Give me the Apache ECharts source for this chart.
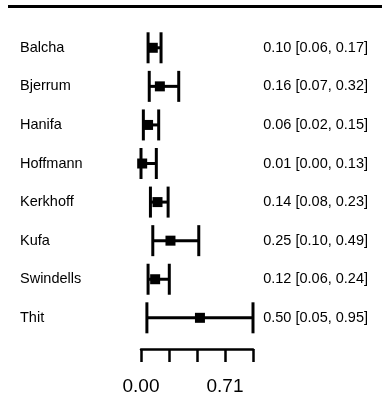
<!DOCTYPE html>
<html>
<head>
<meta charset="utf-8">
<script src="https://cdn.jsdelivr.net/npm/echarts@6/dist/echarts.min.js"></script>
<style>
html,body{margin:0;padding:0;background:#fff;}
#chart{width:382px;height:401px;}
</style>
</head>
<body>
<div id="chart"></div>
<script>
var studies = ["Balcha","Bjerrum","Hanifa","Hoffmann","Kerkhoff","Kufa","Swindells","Thit"];
var estimates = [0.10, 0.16, 0.06, 0.01, 0.14, 0.25, 0.12, 0.50];
var lower = [0.06, 0.07, 0.02, 0.00, 0.08, 0.10, 0.06, 0.05];
var upper = [0.17, 0.32, 0.15, 0.13, 0.23, 0.49, 0.24, 0.95];
var tickValues = [0, 0.2375, 0.475, 0.7125, 0.95];
var tickLabels = ["0.00", "", "", "0.71", ""];

var font = "'Liberation Sans', Arial, sans-serif";
var rightLabels = studies.map(function (s, i) {
  return estimates[i].toFixed(2) + " [" + lower[i].toFixed(2) + ", " + upper[i].toFixed(2) + "]";
});
var seriesData = studies.map(function (s, i) {
  return [lower[i], upper[i], estimates[i], s];
});

var chart = echarts.init(document.getElementById('chart'), null, {renderer: 'canvas'});
chart.setOption({
  animation: false,
  backgroundColor: '#ffffff',
  grid: {left: 141, top: 28.5, width: 112, height: 308.6, containLabel: false, outerBoundsMode: 'none'},
  graphic: [{
    type: 'line',
    shape: {x1: 8, y1: 6.5, x2: 382, y2: 6.5},
    style: {stroke: '#000', lineWidth: 3}
  }],
  xAxis: {
    type: 'value',
    min: tickValues[0],
    max: tickValues[tickValues.length - 1],
    interval: tickValues[1] - tickValues[0],
    offset: 12,
    splitLine: {show: false},
    axisLine: {show: true, lineStyle: {color: '#000', width: 2.5}},
    axisTick: {show: true, length: 13, lineStyle: {color: '#000', width: 2.5}},
    axisLabel: {
      margin: 28,
      fontSize: 19,
      fontFamily: font,
      color: '#000',
      showMinLabel: true,
      showMaxLabel: true,
      hideOverlap: false,
      formatter: function (v) {
        for (var i = 0; i < tickValues.length; i++) {
          if (Math.abs(v - tickValues[i]) < 1e-6) return tickLabels[i];
        }
        return '';
      }
    }
  },
  yAxis: [{
    type: 'category',
    data: studies,
    inverse: true,
    position: 'left',
    axisLine: {show: false},
    axisTick: {show: false},
    splitLine: {show: false},
    axisLabel: {align: 'left', margin: 121, fontSize: 14.5, fontFamily: font, color: '#000', interval: 0}
  }, {
    type: 'category',
    data: rightLabels,
    inverse: true,
    position: 'right',
    axisLine: {show: false},
    axisTick: {show: false},
    splitLine: {show: false},
    axisLabel: {align: 'right', margin: 115, fontSize: 14.5, fontFamily: font, color: '#000', interval: 0}
  }],
  series: [{
    type: 'custom',
    data: seriesData,
    encode: {x: [0, 1, 2], y: 3},
    renderItem: function (params, api) {
      var y = api.value(3);
      var pLo = api.coord([api.value(0), y]);
      var pHi = api.coord([api.value(1), y]);
      var pEst = api.coord([api.value(2), y]);
      var h = 15.5, s = 10;
      var st = {stroke: '#000', lineWidth: 3};
      return {
        type: 'group',
        children: [
          {type: 'line', shape: {x1: pLo[0], y1: pLo[1], x2: pHi[0], y2: pHi[1]}, style: st},
          {type: 'line', shape: {x1: pLo[0], y1: pLo[1] - h, x2: pLo[0], y2: pLo[1] + h}, style: st},
          {type: 'line', shape: {x1: pHi[0], y1: pHi[1] - h, x2: pHi[0], y2: pHi[1] + h}, style: st},
          {type: 'rect', shape: {x: pEst[0] - s / 2, y: pEst[1] - s / 2, width: s, height: s}, style: {fill: '#000'}}
        ]
      };
    }
  }]
});
</script>
</body>
</html>
